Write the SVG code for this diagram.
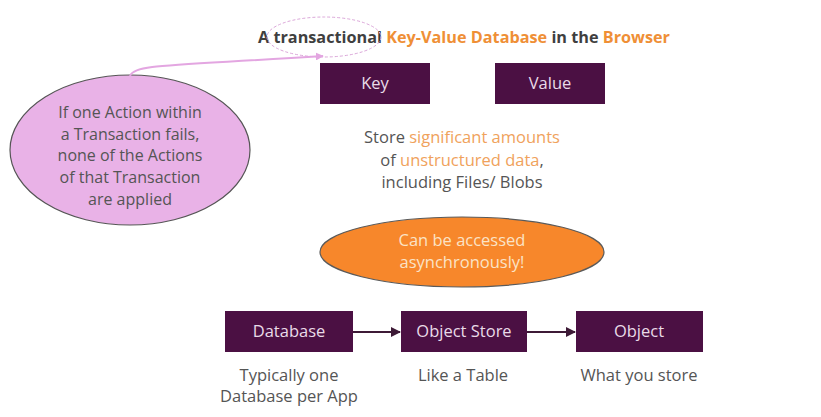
<svg xmlns="http://www.w3.org/2000/svg" width="821" height="417" viewBox="0 0 821 417">
<defs>
<style>
text{font-family:"Open Sans",Roboto,"Liberation Sans",sans-serif;}
.box{fill:#4b1043;}
.bt{fill:#e9dbe8;font-size:16.5px;text-anchor:middle;}
.body{fill:#555555;font-size:16.5px;text-anchor:middle;}
.cb{fill:#555555;font-size:16px;text-anchor:middle;}
.or{fill:#f0a25c;}
.ttl{font-size:15.5px;font-weight:bold;fill:#3f3f3f;}
.tor{fill:#ef8f36;}
.conn{stroke:#3d1a36;stroke-width:2;fill:none;}
</style>
<marker id="ah" viewBox="0 0 10 10" refX="9" refY="5" markerWidth="5" markerHeight="5" orient="auto"><path d="M0,0 L10,5 L0,10 z" fill="#3d1a36"/></marker>
<marker id="ahp" viewBox="0 0 10 10" refX="9" refY="5" markerWidth="4" markerHeight="4" orient="auto"><path d="M0,0 L10,5 L0,10 z" fill="#e3a6e1"/></marker>
</defs>
<rect width="821" height="417" fill="#ffffff"/>

<g id="title">
<text x="258" y="43" class="ttl" textLength="412" lengthAdjust="spacingAndGlyphs">A transactional <tspan class="tor">Key-Value Database</tspan> in the <tspan class="tor">Browser</tspan></text>
</g>
<g id="highlight">
<ellipse cx="324" cy="37" rx="57" ry="20" fill="none" stroke="#dba6d9" stroke-width="1" stroke-dasharray="3,2"/>
</g>

<g id="callout">
<ellipse cx="130" cy="150" rx="120" ry="75" fill="#e9b2e7" stroke="#555" stroke-width="1.2"/>
<text class="cb" x="130" y="118">If one Action within</text>
<text class="cb" x="130" y="140">a Transaction fails,</text>
<text class="cb" x="130" y="161">none of the Actions</text>
<text class="cb" x="130" y="183">of that Transaction</text>
<text class="cb" x="130" y="205">are applied</text>
</g>

<g id="key">
<rect class="box" x="320" y="63" width="110" height="41"/>
<text class="bt" x="375" y="89">Key</text>
</g>
<g id="value">
<rect class="box" x="495" y="63" width="110" height="41"/>
<text class="bt" x="550" y="89">Value</text>
</g>

<g id="store-text">
<text class="body" x="462" y="143">Store <tspan class="or">significant amounts</tspan></text>
<text class="body" x="462" y="166">of <tspan class="or">unstructured data</tspan>,</text>
<text class="body" x="462" y="188">including Files/ Blobs</text>
</g>

<g id="async">
<ellipse cx="462" cy="252" rx="142" ry="35" fill="#f7872b" stroke="#5a5a5a" stroke-width="1.2"/>
<text x="462" y="246" font-size="16.5" text-anchor="middle" fill="#fbe3c6">Can be accessed</text>
<text x="462" y="268" font-size="16.5" text-anchor="middle" fill="#fbe3c6">asynchronously!</text>
</g>

<g id="database">
<rect class="box" x="225" y="311" width="128" height="41"/>
<text class="bt" x="289" y="337">Database</text>
<text class="body" x="289" y="381">Typically one</text>
<text class="body" x="289" y="402">Database per App</text>
</g>
<g id="objectstore">
<rect class="box" x="401" y="311" width="126" height="41"/>
<text class="bt" x="464" y="337">Object Store</text>
<text class="body" x="463" y="381">Like a Table</text>
</g>
<g id="object">
<rect class="box" x="576" y="311" width="127" height="41"/>
<text class="bt" x="639" y="337">Object</text>
<text class="body" x="639" y="381">What you store</text>
</g>

<g id="connectors">
<path class="conn" d="M353,332 L400,332" marker-end="url(#ah)"/>
<path class="conn" d="M527,332 L575,332" marker-end="url(#ah)"/>
<path d="M130,76 C134,64 170,66 323,56" fill="none" stroke="#e3a6e1" stroke-width="2" marker-end="url(#ahp)"/>
</g>
</svg>
